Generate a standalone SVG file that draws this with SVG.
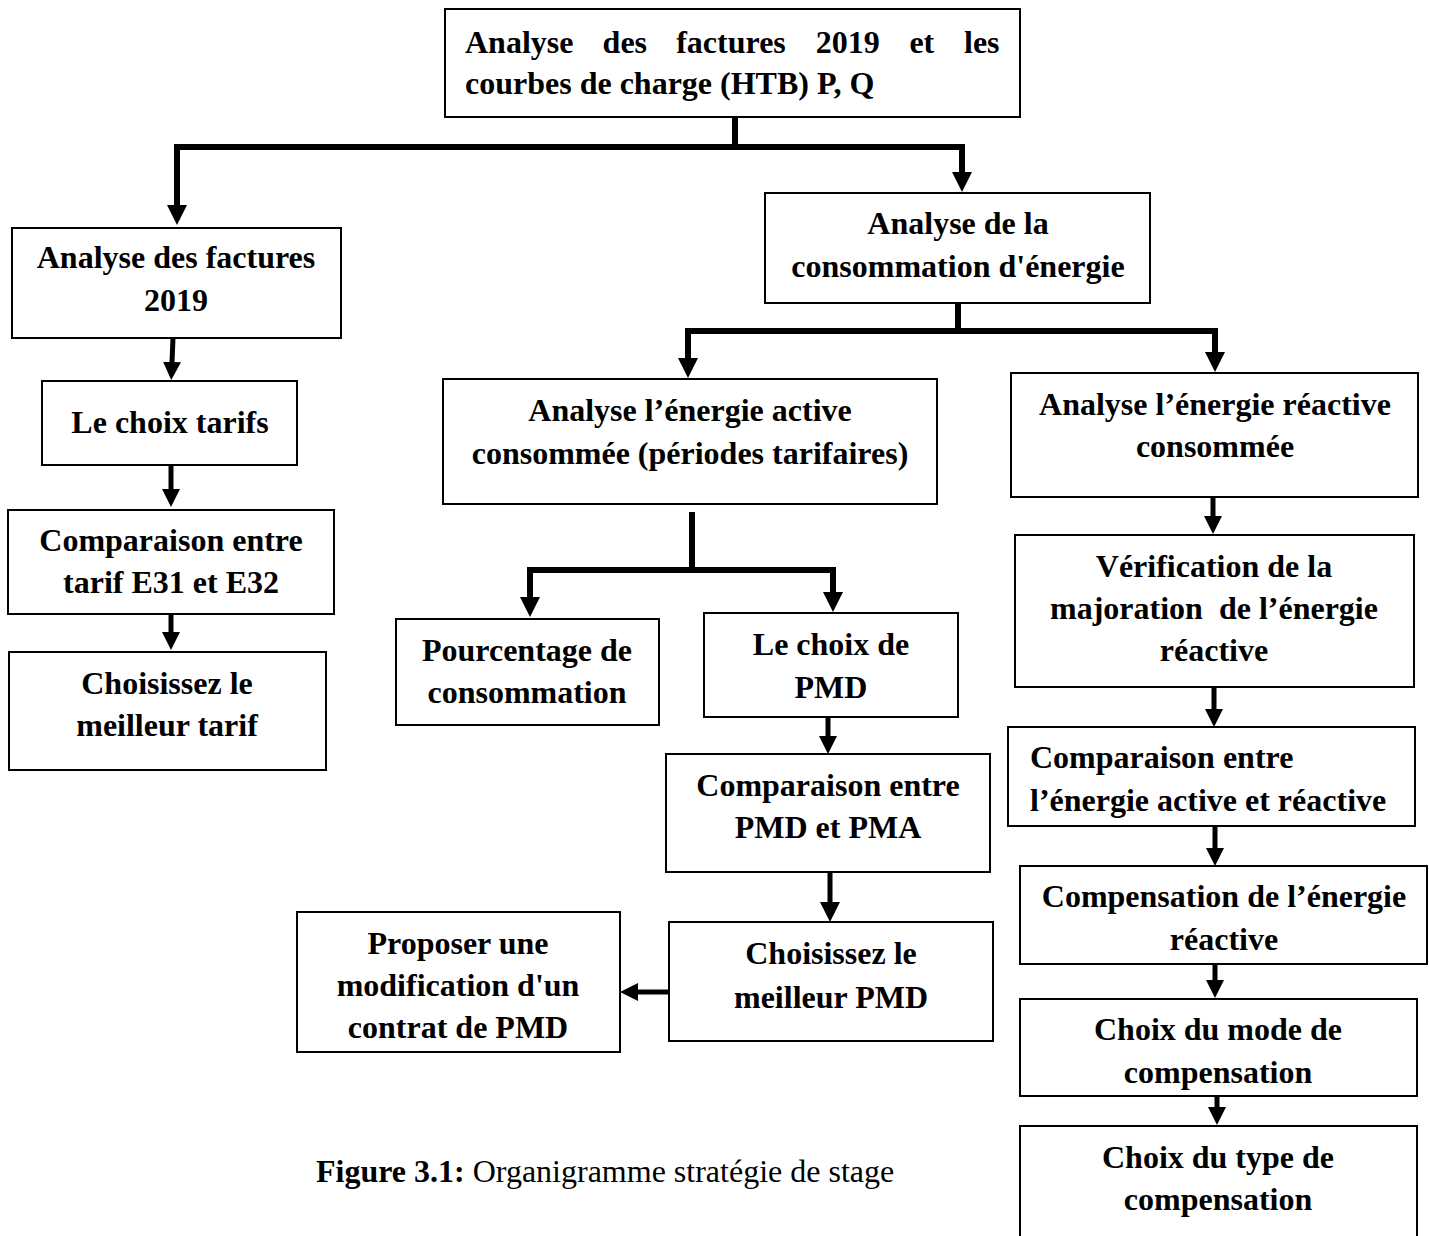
<svg xmlns="http://www.w3.org/2000/svg" width="1429" height="1236" viewBox="0 0 1429 1236">
<defs>
<style>
.box{fill:#fff;stroke:#000;stroke-width:2}
.t{font-family:"Liberation Serif","Times New Roman",serif;font-weight:bold;font-size:32px;fill:#000;text-anchor:middle}
.l{text-anchor:start}
.c{fill:none;stroke:#000;stroke-width:5}
.h{stroke-width:6}
.cap{font-family:"Liberation Serif","Times New Roman",serif;font-size:32px;fill:#000}
</style>
<marker id="ah" markerUnits="userSpaceOnUse" markerWidth="20" markerHeight="20" viewBox="0 0 20 20" refX="0" refY="10" orient="auto">
<path d="M0,0 L20,10 L0,20 z" fill="#000"/>
</marker>
<marker id="as" markerUnits="userSpaceOnUse" markerWidth="18" markerHeight="18" viewBox="0 0 20 20" refX="0" refY="10" orient="auto">
<path d="M0,0 L20,10 L0,20 z" fill="#000"/>
</marker>
</defs>
<rect width="1429" height="1236" fill="#fff"/>

<g id="connectors">
<polyline class="c h" points="735,117 735,147"/>
<polyline class="c h" points="177,205 177,147 962,147 962,172" marker-end="url(#ah)"/>
<line class="c" x1="177" y1="147" x2="177" y2="205" marker-end="url(#ah)"/>
<polyline class="c h" points="958,303 958,331"/>
<polyline class="c h" points="688,358 688,331 1215,331 1215,352" marker-end="url(#ah)"/>
<line class="c" x1="688" y1="331" x2="688" y2="358" marker-end="url(#ah)"/>
<polyline class="c h" points="692,512 692,570"/>
<polyline class="c h" points="530,597 530,570 833,570 833,592" marker-end="url(#ah)"/>
<line class="c" x1="530" y1="570" x2="530" y2="597" marker-end="url(#ah)"/>
<line class="c" x1="173" y1="338" x2="172" y2="362" marker-end="url(#as)"/>
<line class="c" x1="171" y1="465" x2="171" y2="489" marker-end="url(#as)"/>
<line class="c" x1="171" y1="614" x2="171" y2="632" marker-end="url(#as)"/>
<line class="c" x1="828" y1="717" x2="828" y2="736" marker-end="url(#as)"/>
<line class="c" x1="830" y1="872" x2="830" y2="902" marker-end="url(#ah)"/>
<line class="c" x1="669" y1="992" x2="638" y2="992" marker-end="url(#as)"/>
<line class="c" x1="1213" y1="495" x2="1213" y2="516" marker-end="url(#as)"/>
<line class="c" x1="1214" y1="687" x2="1214" y2="709" marker-end="url(#as)"/>
<line class="c" x1="1215" y1="826" x2="1215" y2="848" marker-end="url(#as)"/>
<line class="c" x1="1215" y1="964" x2="1215" y2="980" marker-end="url(#as)"/>
<line class="c" x1="1217" y1="1096" x2="1217" y2="1107" marker-end="url(#as)"/>
</g>

<g id="n-top">
<rect class="box" x="445" y="9" width="575" height="108"/>
<text class="t l" y="53"><tspan x="465">Analyse</tspan><tspan x="602.6">des</tspan><tspan x="676.2">factures</tspan><tspan x="815.8">2019</tspan><tspan x="909.4">et</tspan><tspan x="964">les</tspan></text>
<text class="t l" x="465" y="94">courbes de charge (HTB) P, Q</text>
</g>

<g id="n-factures">
<rect class="box" x="12" y="228" width="329" height="110"/>
<text class="t" x="176" y="268">Analyse des factures</text>
<text class="t" x="176" y="311">2019</text>
</g>

<g id="n-choix-tarifs">
<rect class="box" x="42" y="381" width="255" height="84"/>
<text class="t" x="170" y="433">Le choix tarifs</text>
</g>

<g id="n-comparaison-tarif">
<rect class="box" x="8" y="510" width="326" height="104"/>
<text class="t" x="171" y="551">Comparaison entre</text>
<text class="t" x="171" y="593">tarif E31 et E32</text>
</g>

<g id="n-meilleur-tarif">
<rect class="box" x="9" y="652" width="317" height="118"/>
<text class="t" x="167" y="694">Choisissez le</text>
<text class="t" x="167" y="736">meilleur tarif</text>
</g>

<g id="n-consommation">
<rect class="box" x="765" y="193" width="385" height="110"/>
<text class="t" x="958" y="234">Analyse de la</text>
<text class="t" x="958" y="277">consommation d'énergie</text>
</g>

<g id="n-active">
<rect class="box" x="443" y="379" width="494" height="125"/>
<text class="t" x="690" y="421">Analyse l’énergie active</text>
<text class="t" x="690" y="464">consommée (périodes tarifaires)</text>
</g>

<g id="n-pourcentage">
<rect class="box" x="396" y="619" width="263" height="106"/>
<text class="t" x="527" y="661">Pourcentage de</text>
<text class="t" x="527" y="703">consommation</text>
</g>

<g id="n-choix-pmd">
<rect class="box" x="704" y="613" width="254" height="104"/>
<text class="t" x="831" y="655">Le choix de</text>
<text class="t" x="831" y="698">PMD</text>
</g>

<g id="n-pmd-pma">
<rect class="box" x="666" y="754" width="324" height="118"/>
<text class="t" x="828" y="796">Comparaison entre</text>
<text class="t" x="828" y="838">PMD et PMA</text>
</g>

<g id="n-meilleur-pmd">
<rect class="box" x="669" y="922" width="324" height="119"/>
<text class="t" x="831" y="964">Choisissez le</text>
<text class="t" x="831" y="1008">meilleur PMD</text>
</g>

<g id="n-proposer">
<rect class="box" x="297" y="912" width="323" height="140"/>
<text class="t" x="458" y="954">Proposer une</text>
<text class="t" x="458" y="996">modification d'un</text>
<text class="t" x="458" y="1038">contrat de PMD</text>
</g>

<g id="n-reactive">
<rect class="box" x="1011" y="373" width="407" height="124"/>
<text class="t" x="1215" y="415">Analyse l’énergie réactive</text>
<text class="t" x="1215" y="457">consommée</text>
</g>

<g id="n-verification">
<rect class="box" x="1015" y="535" width="399" height="152"/>
<text class="t" x="1214" y="577">Vérification de la</text>
<text class="t" x="1214" y="619" style="white-space:pre">majoration  de l’énergie</text>
<text class="t" x="1214" y="661">réactive</text>
</g>

<g id="n-comparaison-energie">
<rect class="box" x="1008" y="727" width="407" height="99"/>
<text class="t l" x="1030" y="768">Comparaison entre</text>
<text class="t l" x="1030" y="811">l’énergie active et réactive</text>
</g>

<g id="n-compensation">
<rect class="box" x="1020" y="866" width="407" height="98"/>
<text class="t" x="1224" y="907">Compensation de l’énergie</text>
<text class="t" x="1224" y="950">réactive</text>
</g>

<g id="n-mode">
<rect class="box" x="1020" y="999" width="397" height="97"/>
<text class="t" x="1218" y="1040">Choix du mode de</text>
<text class="t" x="1218" y="1083">compensation</text>
</g>

<g id="n-type">
<path class="box" d="M1020,1240 L1020,1126 L1417,1126 L1417,1240"/>
<text class="t" x="1218" y="1168">Choix du type de</text>
<text class="t" x="1218" y="1210">compensation</text>
</g>

<text class="cap" x="316" y="1182"><tspan font-weight="bold">Figure 3.1:</tspan> Organigramme stratégie de stage</text>
</svg>
